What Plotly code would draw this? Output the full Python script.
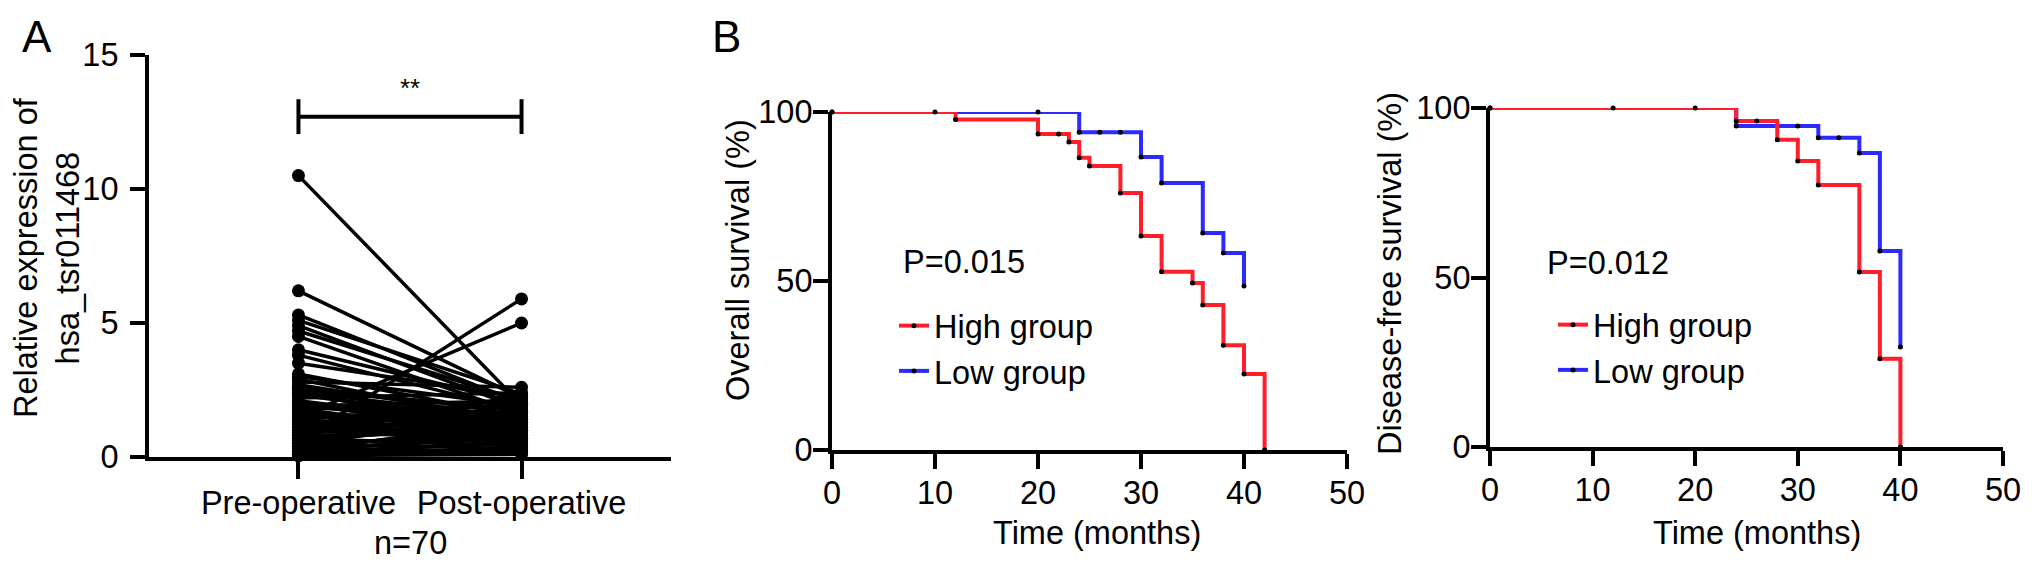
import plotly.graph_objects as go

# ---- Panel A: paired expression values (pre vs post), n=70 ----
categories = ["Pre-operative", "Post-operative"]
pre_values = [10.5, 6.2, 5.3, 5.1, 4.9, 4.7, 4.5, 4.0, 3.8, 3.5,
              3.1, 3.0, 2.9, 2.8, 2.7, 2.6, 2.5, 2.4, 2.3, 2.2,
              2.1, 2.0, 2.0, 1.9, 1.8, 1.8, 1.7, 1.6, 1.6, 1.5,
              1.5, 1.4, 1.4, 1.3, 1.3, 1.2, 1.2, 1.1, 1.1, 1.0,
              1.0, 0.9, 0.9, 0.8, 0.8, 0.7, 0.7, 0.6, 0.6, 0.5,
              0.5, 0.5, 0.4, 0.4, 0.3, 0.3, 0.3, 0.2, 0.2, 0.2,
              0.1, 0.1, 0.1, 0.05, 0.05, 2.4, 1.9, 1.0, 2.6, 0.15]
post_values = [1.95, 2.2, 2.0, 2.35, 1.8, 2.1, 1.6, 2.0, 1.7, 2.25,
               1.5, 1.9, 1.2, 2.6, 1.4, 1.0, 1.75, 0.9, 1.3, 2.4,
               1.1, 0.8, 1.6, 1.2, 0.7, 1.9, 1.0, 1.45, 0.6, 5.0,
               1.3, 0.9, 2.0, 1.1, 0.5, 1.7, 0.8, 1.4, 2.2, 1.0,
               0.6, 1.5, 1.2, 0.9, 2.3, 1.1, 0.4, 5.9, 1.3, 0.8,
               1.6, 0.3, 1.0, 1.8, 0.7, 1.2, 0.2, 0.9, 1.4, 0.5,
               0.15, 1.1, 0.6, 0.1, 0.3, 1.5, 2.1, 1.9, 1.7, 0.25]
a_yticks = [0, 5, 10, 15]

# ---- Panel B: Kaplan-Meier curves (time in months, survival in %) ----
os_high_t = [0, 10, 12, 20, 22, 23, 24, 25, 28, 30, 32, 35, 36, 38, 40, 42]
os_high_s = [100, 100, 97.8, 93.5, 93.5, 91.1, 86.5, 84.0, 76.0, 63.3, 52.7, 49.4, 42.9, 31.0, 22.5, 0]
os_low_t = [0, 20, 24, 26, 28, 30, 32, 36, 38, 40]
os_low_s = [100, 100, 94.0, 94.0, 94.0, 86.7, 79.0, 64.2, 58.3, 48.5]

dfs_high_t = [0, 12, 20, 24, 26, 28, 30, 32, 36, 38, 40]
dfs_high_s = [100, 100, 100, 96.2, 96.2, 90.6, 84.4, 77.3, 51.6, 26.0, 0]
dfs_low_t = [0, 24, 30, 32, 34, 36, 38, 40]
dfs_low_s = [100, 94.7, 94.7, 91.2, 91.2, 86.7, 57.8, 29.5]

km_xticks = [0, 10, 20, 30, 40, 50]
km_yticks = [0, 50, 100]

# the page body has an 8px margin, so the figure is a bit smaller and offset
OFF = 8
W, H = 2032 - OFF, 566 - OFF
FONT = "Liberation Sans, Arial, Helvetica, sans-serif"
FS = 32.5
RED = "#ff1f2a"
BLUE = "#2b2bff"


def fx(p):
    return (p - OFF) / W


def fy(p):
    return 1 - (p - OFF) / H


fig = go.Figure()

# paired lines
lx, ly = [], []
for a, b in zip(pre_values, post_values):
    lx += [0, 1, None]
    ly += [a, b, None]
fig.add_trace(go.Scatter(x=lx, y=ly, mode="lines", line=dict(color="black", width=3.5),
                         xaxis="x", yaxis="y", showlegend=False, hoverinfo="skip"))
fig.add_trace(go.Scatter(x=[0] * len(pre_values) + [1] * len(post_values),
                         y=pre_values + post_values, mode="markers",
                         marker=dict(color="black", size=13), cliponaxis=False,
                         xaxis="x", yaxis="y", showlegend=False))
# significance bracket
bar = 12.7
fig.add_trace(go.Scatter(x=[0, 0, None, 0, 1, None, 1, 1],
                         y=[bar - 0.65, bar + 0.65, None, bar, bar, None, bar - 0.65, bar + 0.65],
                         mode="lines", line=dict(color="black", width=4), cliponaxis=False,
                         xaxis="x", yaxis="y", showlegend=False, hoverinfo="skip"))


def km(t, s, color, name, ax, leg, rank):
    return go.Scatter(x=t, y=s, mode="lines+markers", name=name,
                      line=dict(color=color, width=4, shape="hv"),
                      marker=dict(color="black", size=5), cliponaxis=False,
                      xaxis="x" + ax, yaxis="y" + ax, legend=leg, legendrank=rank)


fig.add_trace(km(os_low_t, os_low_s, BLUE, "Low group", "2", "legend", 2))
fig.add_trace(km(os_high_t, os_high_s, RED, "High group", "2", "legend", 1))
fig.add_trace(km(dfs_low_t, dfs_low_s, BLUE, "Low group", "3", "legend2", 2))
fig.add_trace(km(dfs_high_t, dfs_high_s, RED, "High group", "3", "legend2", 1))

axis_style = dict(showline=True, linewidth=4, linecolor="black", ticks="outside",
                  ticklen=15, tickwidth=4, tickcolor="black", showgrid=False,
                  zeroline=False, automargin=False,
                  tickfont=dict(size=FS, family=FONT, color="black"))

fig.update_layout(
    xaxis=dict(axis_style, domain=[fx(149), fx(671)], range=[-0.67, 1.67],
               tickvals=[0, 1], ticktext=categories, ticklen=18, anchor="y",
               ticklabelstandoff=-4),
    yaxis=dict(axis_style, domain=[fy(457), fy(55)], range=[0, 15], tickvals=a_yticks,
               anchor="x", ticklabelstandoff=5),
    xaxis2=dict(axis_style, domain=[fx(832), fx(1347)], range=[0, 50], tickvals=km_xticks,
                anchor="y2", ticklabelstandoff=-4),
    yaxis2=dict(axis_style, domain=[fy(450), fy(112)], range=[0, 100], tickvals=km_yticks,
                anchor="x2", ticklabelstandoff=-6),
    xaxis3=dict(axis_style, domain=[fx(1490), fx(2003)], range=[0, 50], tickvals=km_xticks,
                anchor="y3", ticklabelstandoff=-4),
    yaxis3=dict(axis_style, domain=[fy(447), fy(108)], range=[0, 100], tickvals=km_yticks,
                anchor="x3", ticklabelstandoff=-6),
    legend=dict(x=fx(894), y=fy(298), xanchor="left", yanchor="top",
                bgcolor="rgba(0,0,0,0)", font=dict(size=FS, family=FONT, color="black")),
    legend2=dict(x=fx(1553), y=fy(297), xanchor="left", yanchor="top",
                 bgcolor="rgba(0,0,0,0)", font=dict(size=FS, family=FONT, color="black")),
    width=W, height=H, margin=dict(l=0, r=0, t=0, b=0, autoexpand=False),
    paper_bgcolor="white", plot_bgcolor="white",
    font=dict(family=FONT, color="black"),
)


def note(text, x, y, size=FS, angle=0, xanchor="center"):
    fig.add_annotation(text=text, x=fx(x), y=fy(y), xref="paper", yref="paper",
                       showarrow=False, textangle=angle, xanchor=xanchor, yanchor="middle",
                       font=dict(size=size, family=FONT, color="black"))


note("A", 37, 36, size=44)
note("B", 726, 36, size=44)
note("**", 410, 88, size=26)
note("n=70", 410, 543)
note("Relative expression of<br>hsa_tsr011468", 47, 258, angle=-90)
note("Overall survival (%)", 738, 260, angle=-90)
note("Disease-free survival (%)", 1390, 274, angle=-90)
note("Time (months)", 1097, 533)
note("Time (months)", 1757, 533)
note("P=0.015", 901, 262, xanchor="left")
note("P=0.012", 1545, 263, xanchor="left")

fig.write_html("out.html")
